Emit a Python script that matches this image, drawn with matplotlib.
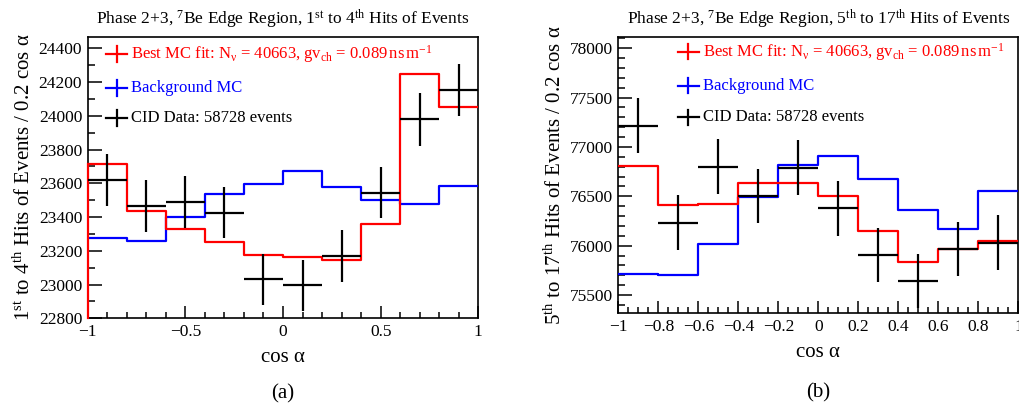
import matplotlib
matplotlib.use("Agg")
import matplotlib.pyplot as plt
from matplotlib.ticker import MultipleLocator

plt.rcParams["font.family"] = ["Liberation Serif", "DejaVu Serif"]
plt.rcParams["mathtext.fontset"] = "custom"
plt.rcParams["mathtext.rm"] = "Liberation Serif"
plt.rcParams["mathtext.it"] = "Liberation Serif:italic"
plt.rcParams["mathtext.bf"] = "Liberation Serif:bold"

# cos(alpha) binning: 10 bins of width 0.2
bin_edges = [-1.0, -0.8, -0.6, -0.4, -0.2, 0.0, 0.2, 0.4, 0.6, 0.8, 1.0]
bin_centers = [-0.9, -0.7, -0.5, -0.3, -0.1, 0.1, 0.3, 0.5, 0.7, 0.9]

# Panel (a): 1st to 4th hits
fit_a = [23717, 23436, 23328, 23250, 23173, 23165, 23145, 23357, 24248, 24055]
bkg_a = [23274, 23258, 23402, 23535, 23594, 23673, 23580, 23502, 23475, 23586]
data_a = [23620, 23465, 23491, 23426, 23031, 22996, 23169, 23545, 23979, 24153]
err_a = [154, 153, 153, 153, 152, 152, 152, 153, 155, 155]

# Panel (b): 5th to 17th hits
fit_b = [76811, 76412, 76422, 76634, 76638, 76508, 76149, 75838, 75965, 76052]
bkg_b = [75710, 75700, 76014, 76498, 76813, 76909, 76676, 76361, 76166, 76555]
data_b = [77213, 76233, 76800, 76503, 76790, 76379, 75905, 75645, 75966, 76032]
err_b = [278, 276, 277, 277, 277, 276, 276, 275, 276, 276]

legend_labels = [
    r"Best MC fit: N$_{\mathrm{ν}}$ = 40663, gv$_{\mathrm{ch}}$ = 0.089$\,$ns$\,$m$^{-1}$",
    "Background MC",
    "CID Data: 58728 events",
]

RED = "#ff0000"
BLUE = "#0000ff"

fig = plt.figure(figsize=(10.19, 4.07), dpi=100)
ax_a = fig.add_axes([0.0861, 0.218, 0.3833, 0.691])
ax_b = fig.add_axes([0.6068, 0.2302, 0.3927, 0.6782])


def hist_line(ax, values, color, drop_left=False):
    vals = list(values) + [values[-1]]
    ax.step(bin_edges, vals, where="post", color=color, lw=1.6, zorder=3)
    if drop_left:
        ax.plot([bin_edges[0], bin_edges[0]], [ax.get_ylim()[0], values[0]],
                color=color, lw=1.6, zorder=4, clip_on=False)


def draw_panel(ax, fit, bkg, data, err, ylim, ymajor, yminor, xmajor, xminor,
               title, ylabel, tag, tag_y, drop_left, leg_x, leg_ys):
    ax.set_xlim(-1, 1)
    ax.set_ylim(*ylim)
    hist_line(ax, bkg, BLUE)
    hist_line(ax, fit, RED, drop_left=drop_left)
    ax.errorbar(bin_centers, data, xerr=0.1, yerr=err, fmt="none",
                ecolor="black", elinewidth=1.6, capsize=0, zorder=5)

    ax.xaxis.set_major_locator(MultipleLocator(xmajor))
    ax.xaxis.set_minor_locator(MultipleLocator(xminor))
    ax.yaxis.set_major_locator(MultipleLocator(ymajor))
    ax.yaxis.set_minor_locator(MultipleLocator(yminor))
    ax.tick_params(which="both", direction="in", top=False, right=False,
                   labelsize=12.5, width=1.1, pad=4)
    ax.tick_params(axis="y", which="major", length=10)
    ax.tick_params(axis="y", which="minor", length=5)
    ax.tick_params(axis="x", which="major", length=9)
    ax.tick_params(axis="x", which="minor", length=4.5)
    for sp in ax.spines.values():
        sp.set_linewidth(1.2)

    ax.xaxis.set_major_formatter(
        plt.FuncFormatter(lambda v, p: ("%g" % round(v, 2)).replace("-", "\u2212")))

    ax.set_xlabel("cos \u03b1", fontsize=15, labelpad=6)
    ax.set_ylabel(ylabel, fontsize=15, labelpad=3)
    ax.set_title(title, fontsize=12.5, pad=9)

    # legend entries: coloured crosses followed by text, placed in axes fractions
    colors = [RED, BLUE, "black"]
    hw, hh = 0.026, 0.027
    for lab, col, ly in zip(legend_labels, colors, leg_ys):
        ax.plot([leg_x - hw, leg_x + hw], [ly, ly], color=col, lw=1.6,
                transform=ax.transAxes, zorder=6)
        ax.plot([leg_x, leg_x], [ly - hh, ly + hh], color=col, lw=1.6,
                transform=ax.transAxes, zorder=6)
        ax.text(leg_x + 0.037, ly, lab, color=col, fontsize=12,
                transform=ax.transAxes, va="center", ha="left")
    ax.text(0.5, tag_y, tag, transform=ax.transAxes, ha="center", va="center",
            fontsize=15)


draw_panel(ax_a, fit_a, bkg_a, data_a, err_a, (22800, 24467), 200, 100, 0.5, 0.1,
           "Phase 2+3, $^{7}$Be Edge Region, 1$^{\\mathrm{st}}$ to 4$^{\\mathrm{th}}$ Hits of Events",
           "1$^{\\mathrm{st}}$ to 4$^{\\mathrm{th}}$ Hits of Events / 0.2 cos \u03b1",
           "(a)", -0.267, True, 0.074, [0.940, 0.819, 0.712])
draw_panel(ax_b, fit_b, bkg_b, data_b, err_b, (75315, 78111), 500, 100, 0.2, 0.05,
           "Phase 2+3, $^{7}$Be Edge Region, 5$^{\\mathrm{th}}$ to 17$^{\\mathrm{th}}$ Hits of Events",
           "5$^{\\mathrm{th}}$ to 17$^{\\mathrm{th}}$ Hits of Events / 0.2 cos \u03b1",
           "(b)", -0.29, False, 0.175, [0.948, 0.824, 0.710])

fig.savefig("out.png", dpi=100)
